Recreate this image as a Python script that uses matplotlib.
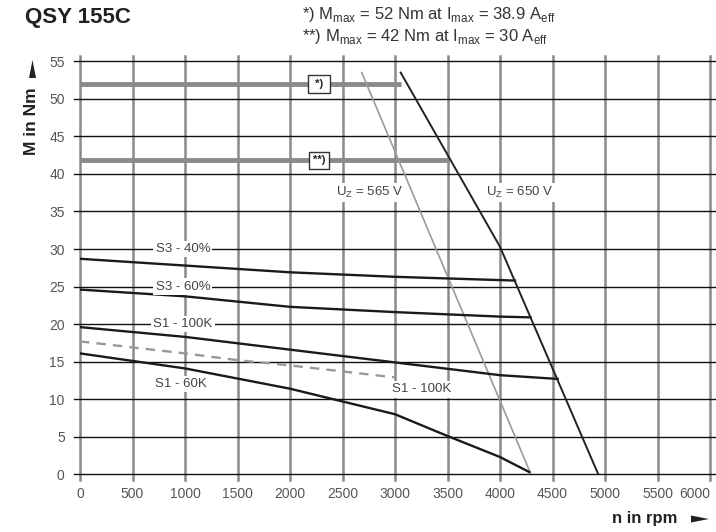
import matplotlib
matplotlib.use("Agg")
import matplotlib.pyplot as plt
from matplotlib.patches import Polygon

plt.rcParams['font.family'] = ['Liberation Sans', 'DejaVu Sans']
plt.rcParams['mathtext.fontset'] = 'custom'
plt.rcParams['mathtext.rm'] = 'Liberation Sans'

# ---- data ----
x_ticks = [0, 500, 1000, 1500, 2000, 2500, 3000, 3500, 4000, 4500, 5000, 5500, 6000]
y_ticks = [0, 5, 10, 15, 20, 25, 30, 35, 40, 45, 50, 55]

s3_40_n = [0, 1000, 2000, 3000, 4143]
s3_40_m = [28.7, 27.8, 26.9, 26.3, 25.8]

s3_60_n = [0, 1000, 2000, 3000, 4000, 4290]
s3_60_m = [24.6, 23.7, 22.3, 21.6, 21.0, 20.9]

s1_100_n = [0, 1000, 2000, 3000, 4000, 4549]
s1_100_m = [19.6, 18.3, 16.6, 14.9, 13.2, 12.7]

s1_100d_n = [0, 1000, 1500, 2000, 3000]
s1_100d_m = [17.7, 16.1, 15.2, 14.5, 12.9]

s1_60_n = [0, 1000, 2000, 3000, 3500, 4000, 4279]
s1_60_m = [16.1, 14.1, 11.4, 8.0, 5.1, 2.3, 0.3]

uz650_n = [3054, 4000, 4936]
uz650_m = [53.5, 30.3, 0.0]

uz565_n = [2683, 4295]
uz565_m = [53.5, 0.0]

mmax1_n = [0, 3060]
mmax1_m = [52, 52]
mmax2_n = [0, 3510]
mmax2_m = [41.8, 41.8]

# ---- figure ----
fig = plt.figure(figsize=(7.16, 5.32), dpi=100)
ax = fig.add_axes([80/716, 57.7/532, 630/716, 413/532])
ax.set_xlim(0, 6000)
ax.set_ylim(0, 55)
for s in ax.spines.values():
    s.set_visible(False)
ax.set_xticks(x_ticks)
ax.set_yticks(y_ticks)
ax.tick_params(length=0, colors='#555555', labelsize=10, pad=9)
ax.tick_params(axis='y', pad=11)
ax.get_xticklabels()[-1].set_ha('right')
ax.get_xticklabels()[-1].set_x(6020)

# grid: vertical gray, horizontal black, extending slightly past the axes
for xv in x_ticks:
    ax.axvline(xv, ymin=-0.014, ymax=1.012, color='#8a8a8a', lw=1.8, clip_on=False, zorder=1)
for yv in y_ticks:
    ax.axhline(yv, xmin=-0.01, xmax=1.011, color='#111111', lw=1.0, clip_on=False, zorder=1)

# limit lines
ax.plot(mmax1_n, mmax1_m, color='#8a8a8a', lw=3.5, zorder=2, solid_capstyle='butt')
ax.plot(mmax2_n, mmax2_m, color='#8a8a8a', lw=3.5, zorder=2, solid_capstyle='butt')

# curves
kw = dict(color='#1a1a1a', lw=1.7, zorder=4)
ax.plot(s3_40_n, s3_40_m, **kw)
ax.plot(s3_60_n, s3_60_m, **kw)
ax.plot(s1_100_n, s1_100_m, **kw)
ax.plot(s1_60_n, s1_60_m, **kw)
ax.plot(s1_100d_n, s1_100d_m, color='#999999', lw=1.7, ls=(0, (4, 3)), zorder=4)
ax.plot(uz650_n, uz650_m, color='#222222', lw=1.4, zorder=4)
ax.plot(uz565_n, uz565_m, color='#9a9a9a', lw=1.2, zorder=3)

# labels
lab = dict(fontsize=9.5, color='#444444', ha='center', va='center', zorder=5,
           bbox=dict(facecolor='white', edgecolor='none', pad=1.5))
ax.text(980, 30, 'S3 - 40%', **lab)
ax.text(980, 25, 'S3 - 60%', **lab)
ax.text(980, 20, 'S1 - 100K', **lab)
ax.text(960, 12.0, 'S1 - 60K', **lab)
ax.text(3250, 11.3, 'S1 - 100K', **lab)
ax.text(2760, 37.5, r'U$_\mathrm{Z}$ = 565 V', **lab)
ax.text(4190, 37.5, r'U$_\mathrm{Z}$ = 650 V', **lab)

box = dict(fontsize=8, color='#222222', ha='center', va='center', zorder=5, fontweight='bold',
           bbox=dict(facecolor='white', edgecolor='#333333', lw=1.0, boxstyle='square,pad=0.35'))
ax.text(2275, 52, ' *) ', **box)
ax.text(2275, 41.8, '**)', **box)

# titles and notes
fig.text(25/716, 1 - 18/532, 'QSY 155C', fontsize=16, fontweight='bold', color='#222222',
         ha='left', va='center')
fig.text(302/716, 1 - 15/532,
         r'*) M$_\mathrm{max}$ = 52 Nm at I$_\mathrm{max}$ = 38.9 A$_\mathrm{eff}$',
         fontsize=12, color='#333333', ha='left', va='center')
fig.text(302/716, 1 - 36/532,
         r'**) M$_\mathrm{max}$ = 42 Nm at I$_\mathrm{max}$ = 30 A$_\mathrm{eff}$',
         fontsize=12, color='#333333', ha='left', va='center')

fig.text(32/716, 1 - 121/532, 'M in Nm', rotation=90, fontsize=12.5, fontweight='bold',
         color='#222222', ha='center', va='center')
fig.patches.append(Polygon([[29/716, 1 - 78/532], [36/716, 1 - 78/532], [32.5/716, 1 - 60/532]],
                           closed=True, transform=fig.transFigure, facecolor='#222222',
                           edgecolor='none'))
fig.text(677/716, 1 - 519/532, 'n in rpm', fontsize=12, fontweight='bold', color='#222222',
         ha='right', va='center')
fig.patches.append(Polygon([[691/716, 1 - 515.5/532], [691/716, 1 - 522.5/532], [709/716, 1 - 519/532]],
                           closed=True, transform=fig.transFigure, facecolor='#222222',
                           edgecolor='none'))

fig.savefig('out.png', dpi=100)
